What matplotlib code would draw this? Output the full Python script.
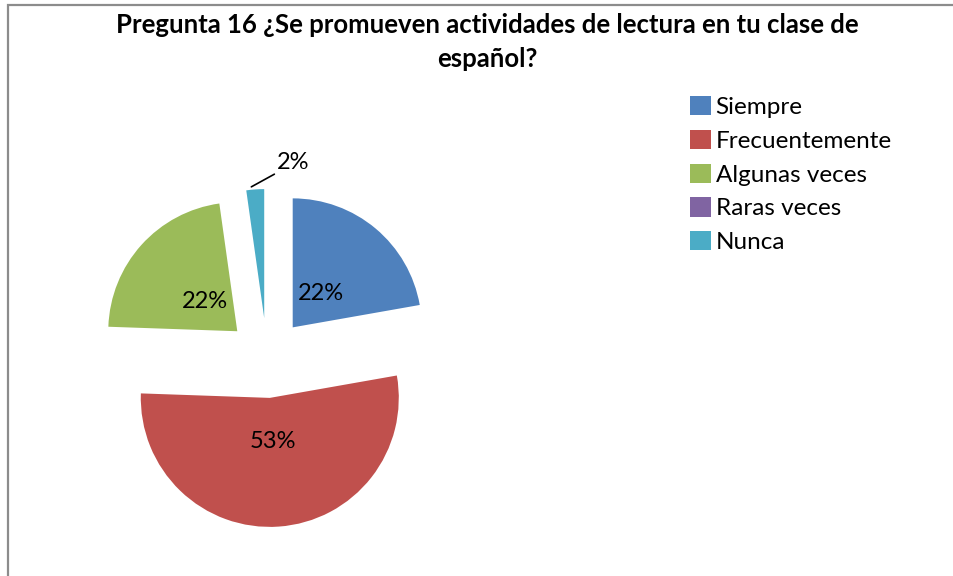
import matplotlib
matplotlib.use("Agg")
import matplotlib.pyplot as plt
from matplotlib.patches import Rectangle
import numpy as np

TITLE = "Pregunta 16 ¿Se promueven actividades de lectura en tu clase de\nespañol?"
CATEGORIES = ["Siempre", "Frecuentemente", "Algunas veces", "Raras veces", "Nunca"]
COUNTS = [10, 24, 10, 0, 1]
COLORS = ["#4F81BD", "#C0504D", "#9BBB59", "#8064A2", "#4BACC6"]

plt.rcParams["font.family"] = ["Lato", "DejaVu Sans"]

W, H = 954, 576
fig = plt.figure(figsize=(W / 100, H / 100), dpi=100)

# gray frame (only top and left edges show in the screenshot)
fig.add_artist(Rectangle((8 / W, -0.1), 1.2, 1.1 - 5 / H, transform=fig.transFigure,
                         fill=False, edgecolor="#8c8c8c", lw=1.6))

# pie axes: ~129 px radius, centre at (267, 358) px from top-left
S = 387
cx, cy = 267, H - 358
ax = fig.add_axes([(cx - S / 2) / W, (cy - S / 2) / H, S / W, S / H])

total = sum(COUNTS)


def fmt(pct):
    if pct < 5:
        return ""
    return f"{pct:.0f}%"


wedges, _, autotexts = ax.pie(COUNTS, colors=COLORS, startangle=90, counterclock=False,
                              explode=[0.31] * len(COUNTS), radius=1.0, autopct=fmt,
                              pctdistance=0.34, textprops={"fontsize": 17, "color": "black"})
ax.set_xlim(-1.5, 1.5)
ax.set_ylim(-1.5, 1.5)
ax.set_aspect("equal")
ax.axis("off")

# small slice label outside with leader line
i = CATEGORIES.index("Nunca")
w = wedges[i]
mid = np.deg2rad((w.theta1 + w.theta2) / 2)
cxw, cyw = w.center
tip = (cxw + 1.0 * np.cos(mid), cyw + 1.0 * np.sin(mid))
pct = 100 * COUNTS[i] / total
ax.annotate(f"{pct:.0f}%", xy=(tip[0] - 0.03, tip[1] + 0.02),
            xytext=(tip[0] + 0.17, tip[1] + 0.13), fontsize=17,
            ha="left", va="bottom", annotation_clip=False,
            arrowprops=dict(arrowstyle="-", color="black", lw=1.2, shrinkA=0, shrinkB=0,
                            relpos=(0, 0)))

fig.text(487 / W, 1 - 13 / H, TITLE, ha="center", va="top", fontsize=18.5,
         fontweight="bold", linespacing=1.5)

fig.legend(wedges, CATEGORIES, loc="upper left", bbox_to_anchor=(690 / W, 1 - 96 / H),
           frameon=False, fontsize=17.5, handlelength=0.85, handleheight=0.85,
           handletextpad=0.2, labelspacing=0.48, borderaxespad=0, borderpad=0)

fig.savefig("out.png", dpi=100)
